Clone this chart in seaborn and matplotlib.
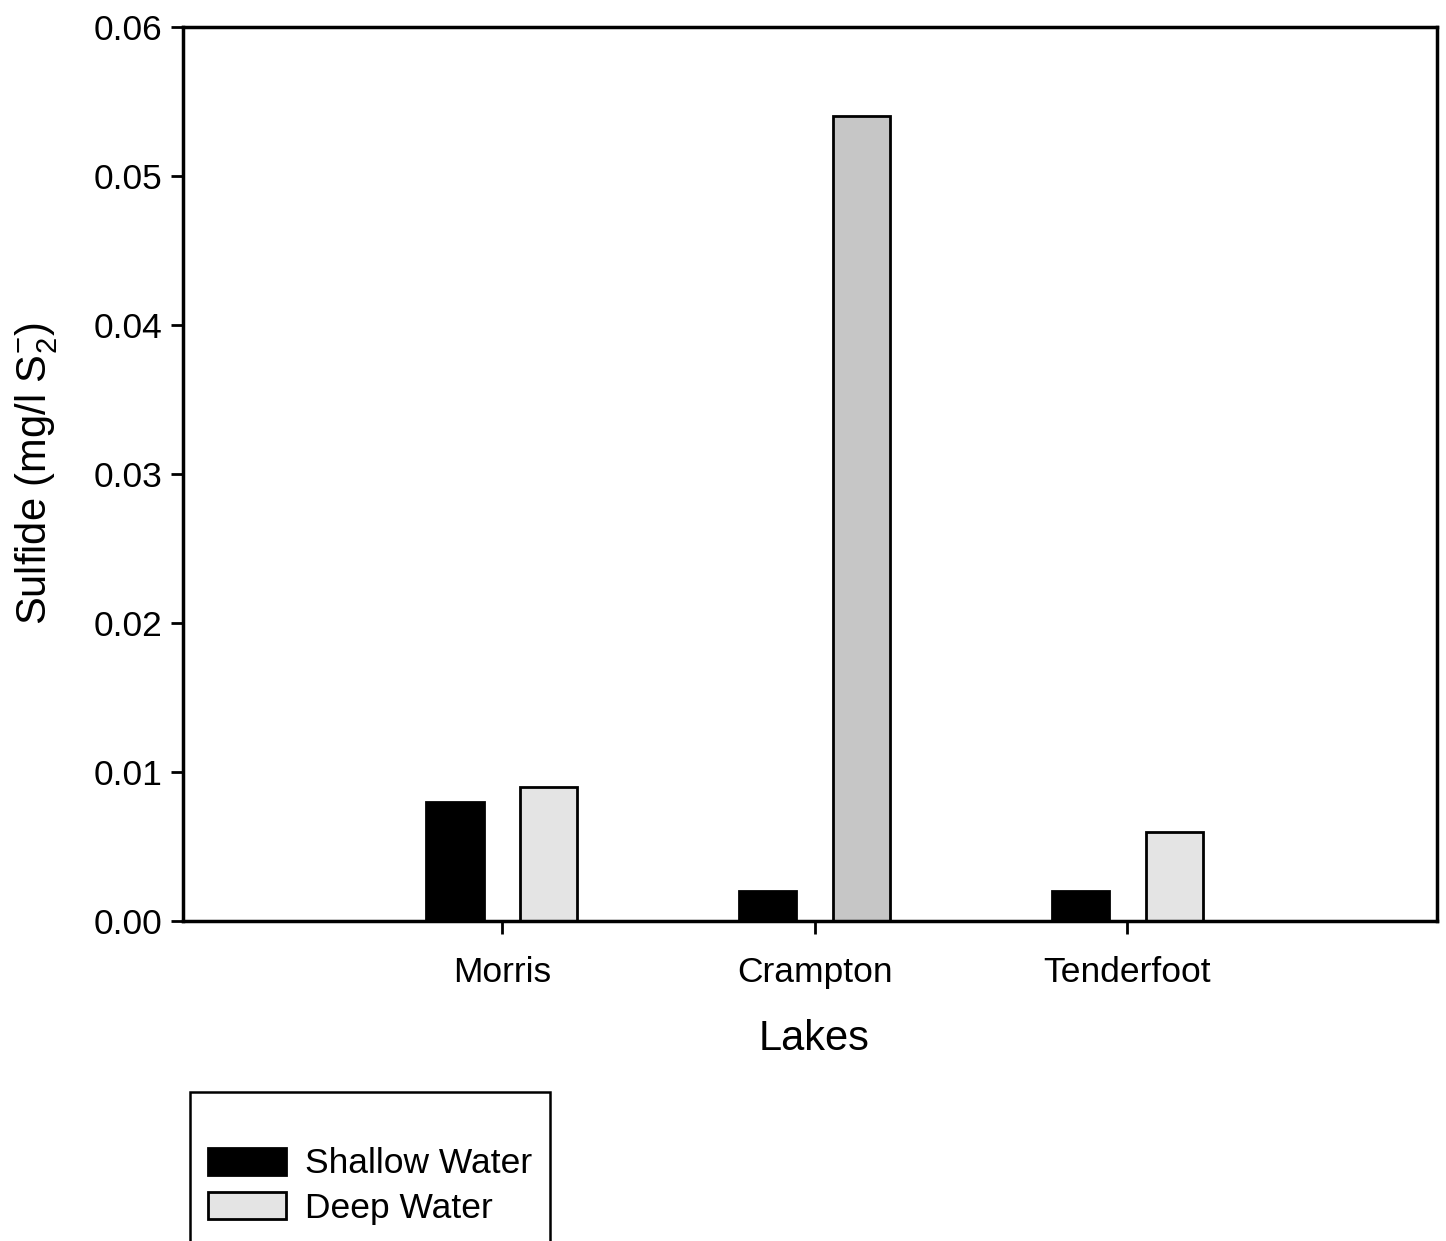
import matplotlib
matplotlib.use("Agg")
import matplotlib.pyplot as plt
import seaborn as sns
import pandas as pd

lakes = ["Morris", "Crampton", "Tenderfoot"]
shallow = [0.008, 0.002, 0.002]
deep = [0.009, 0.054, 0.006]
series = ["Shallow Water", "Deep Water"]
yticks = [0.00, 0.01, 0.02, 0.03, 0.04, 0.05, 0.06]

df = pd.DataFrame({
    "Lake": lakes * 2,
    "Value": shallow + deep,
    "Series": [series[0]] * 3 + [series[1]] * 3,
})

sns.set_theme(style="white")
plt.rcParams['font.family'] = ['Liberation Sans', 'DejaVu Sans']
plt.rcParams['text.color'] = 'black'
plt.rcParams['axes.labelcolor'] = 'black'
plt.rcParams['xtick.color'] = 'black'
plt.rcParams['ytick.color'] = 'black'

fig = plt.figure(figsize=(14.46, 12.41), dpi=100)
ax = fig.add_axes([183/1446, 1-921/1241, (1437-183)/1446, (921-27)/1241])

sns.barplot(data=df, x="Lake", y="Value", hue="Series", order=lakes,
            hue_order=series, palette=["#000000", "#e4e4e4"],
            width=0.6, gap=0.39, edgecolor="black", linewidth=2,
            ax=ax, legend=True)

# Crampton deep bar appears darker (denser stipple)
ax.containers[1][1].set_facecolor("#c6c6c6")

ax.set_xlim(-1.02, 2.99)
ax.set_ylim(0, 0.06)
ax.set_yticks(yticks)
ax.set_yticklabels([f"{v:.2f}" for v in yticks])
ax.tick_params(axis="both", labelsize=25.5, direction="out", length=9, width=2,
               color="black", labelcolor="black", left=True, bottom=True, pad=6)
ax.tick_params(axis="x", pad=16)
for s in ax.spines.values():
    s.set_visible(True)
    s.set_color("black")
    s.set_linewidth(2.5)

ax.set_xlabel("Lakes", fontsize=30, labelpad=22, color="black")
ax.xaxis.label.set_x((814 - 183) / 1254)
ax.set_ylabel("Sulfide (mg/l $\\mathregular{S_2^{-}}$)", fontsize=30,
              labelpad=24, color="black")

leg = ax.legend(loc="upper left", bbox_to_anchor=(190/1446, 1-1092/1241),
                bbox_transform=fig.transFigure, fontsize=25.5, frameon=True,
                fancybox=False, edgecolor="black", handlelength=2.2,
                handleheight=0.8, handletextpad=0.55, borderpad=0.5,
                labelspacing=0.33, borderaxespad=0, title=" ",
                title_fontsize=20)
leg.get_frame().set_linewidth(1.8)
leg.get_frame().set_edgecolor("black")
leg.get_frame().set_alpha(1)
for t in leg.get_texts():
    t.set_color("black")
for h in leg.legend_handles:
    h.set_edgecolor("black")

fig.savefig("out.png", dpi=100)
